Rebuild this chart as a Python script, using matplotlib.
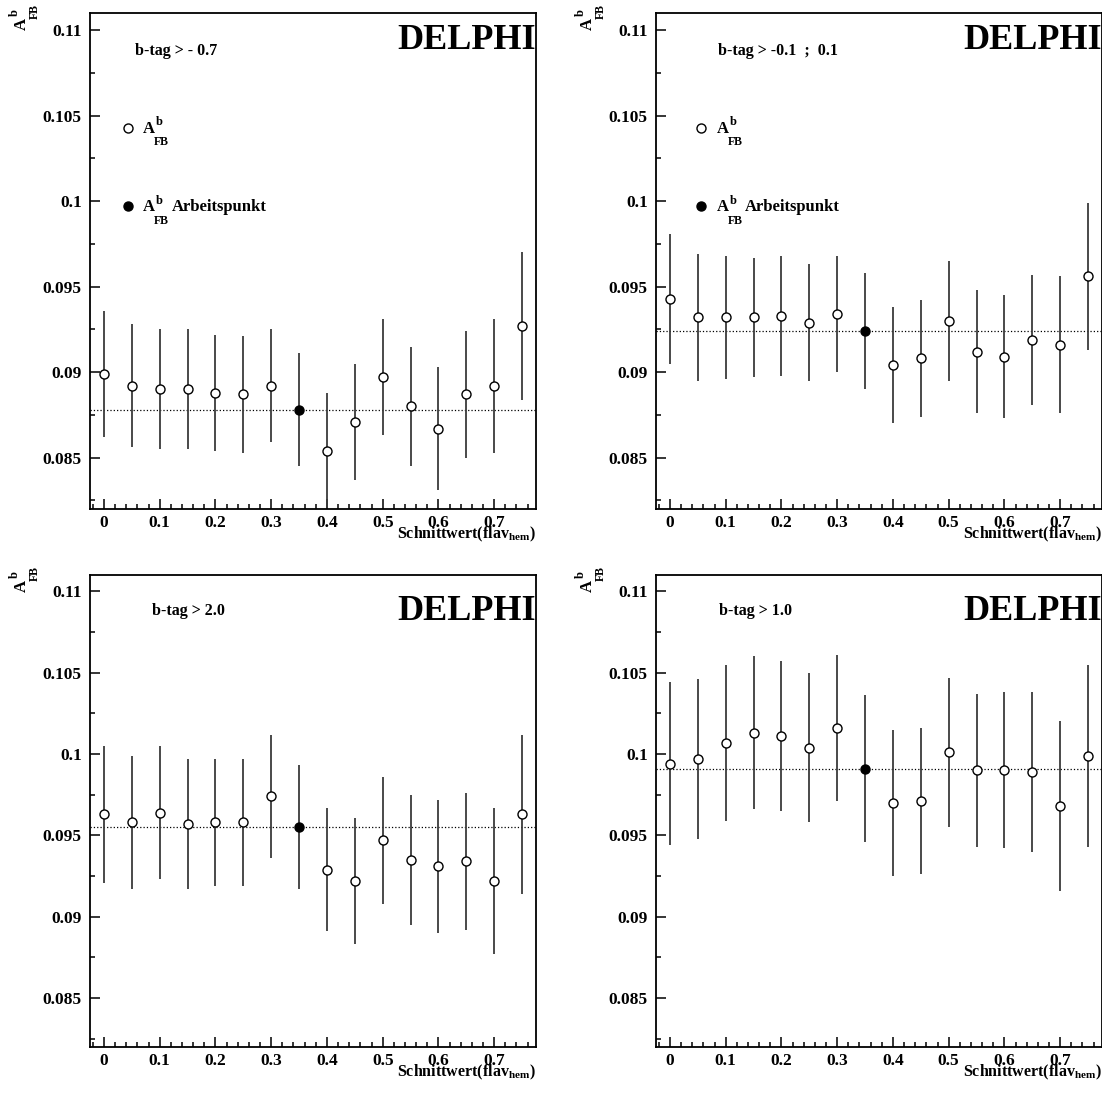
import matplotlib
matplotlib.use("Agg")
import matplotlib.pyplot as plt
from matplotlib.ticker import MultipleLocator, FuncFormatter

# ==============================
# Data: A_FB^b vs cut value, four b-tag selections
# ==============================
cuts = [0.0, 0.05, 0.1, 0.15, 0.2, 0.25, 0.3, 0.35, 0.4, 0.45, 0.5, 0.55, 0.6, 0.65, 0.7, 0.75]
work_point = 7  # index of the Arbeitspunkt (cut 0.35)

afb_m07 = [0.0899, 0.0892, 0.0890, 0.0890, 0.0888, 0.0887, 0.0892, 0.0878,
           0.0854, 0.0871, 0.0897, 0.0880, 0.0867, 0.0887, 0.0892, 0.0927]
err_m07 = [0.0037, 0.0036, 0.0035, 0.0035, 0.0034, 0.0034, 0.0033, 0.0033,
           0.0034, 0.0034, 0.0034, 0.0035, 0.0036, 0.0037, 0.0039, 0.0043]

afb_m01 = [0.0943, 0.0932, 0.0932, 0.0932, 0.0933, 0.0929, 0.0934, 0.0924,
           0.0904, 0.0908, 0.0930, 0.0912, 0.0909, 0.0919, 0.0916, 0.0956]
err_m01 = [0.0038, 0.0037, 0.0036, 0.0035, 0.0035, 0.0034, 0.0034, 0.0034,
           0.0034, 0.0034, 0.0035, 0.0036, 0.0036, 0.0038, 0.0040, 0.0043]

afb_20 = [0.0963, 0.0958, 0.0964, 0.0957, 0.0958, 0.0958, 0.0974, 0.0955,
          0.0929, 0.0922, 0.0947, 0.0935, 0.0931, 0.0934, 0.0922, 0.0963]
err_20 = [0.0042, 0.0041, 0.0041, 0.0040, 0.0039, 0.0039, 0.0038, 0.0038,
          0.0038, 0.0039, 0.0039, 0.0040, 0.0041, 0.0042, 0.0045, 0.0049]

afb_10 = [0.0994, 0.0997, 0.1007, 0.1013, 0.1011, 0.1004, 0.1016, 0.0991,
          0.0970, 0.0971, 0.1001, 0.0990, 0.0990, 0.0989, 0.0968, 0.0999]
err_10 = [0.0050, 0.0049, 0.0048, 0.0047, 0.0046, 0.0046, 0.0045, 0.0045,
          0.0045, 0.0045, 0.0046, 0.0047, 0.0048, 0.0049, 0.0052, 0.0056]

titles = ["b-tag > - 0.7", "b-tag > -0.1  ;  0.1", "b-tag > 2.0", "b-tag > 1.0"]

# ==============================
# Style (ROOT-like, bold Times)
# ==============================
plt.rcParams["font.family"] = "Liberation Serif"
plt.rcParams["font.weight"] = "bold"
plt.rcParams["mathtext.fontset"] = "custom"
plt.rcParams["mathtext.rm"] = "Liberation Serif:bold"
plt.rcParams["mathtext.it"] = "Liberation Serif:bold"
plt.rcParams["mathtext.bf"] = "Liberation Serif:bold"
plt.rcParams["mathtext.default"] = "rm"

W, H = 1102, 1111
fig = plt.figure(figsize=(W / 100, H / 100), dpi=100)


def afb_text(ax, x, y, xycoords, rot=0, extra=""):
    # ROOT style A^b_FB: superscript and subscript stacked
    if rot == 0:
        sup, sub, ext = (9.6, 5.5), (7.7, -8.9), (20.5, 0)
    else:
        sup, sub, ext = (-5.5, 9.6), (8.9, 7.7), (0, 20.5)
    kw = dict(xycoords=xycoords, textcoords="offset points", rotation=rot,
              rotation_mode="anchor", ha="left", va="baseline", annotation_clip=False)
    ax.annotate("A", (x, y), xytext=(0, 0), fontsize=12, **kw)
    ax.annotate("b", (x, y), xytext=sup, fontsize=9, **kw)
    ax.annotate("FB", (x, y), xytext=sub, fontsize=8.5, **kw)
    if extra:
        ax.annotate(extra, (x, y), xytext=ext, fontsize=12, **kw)


# axes rectangles in pixels: left, top, width, height
rects = [(90, 13, 446, 496), (656, 13, 446, 496),
         (90, 575, 446, 472), (656, 575, 446, 472)]
panels = [(afb_m07, err_m07), (afb_m01, err_m01), (afb_20, err_20), (afb_10, err_10)]
title_x = [0.055, 0.086, 0.087, 0.088]
delphi_y = [0.927, 0.927, 0.905, 0.905]
legend_x = [0.043, 0.055]
legend_tx = [0.070, 0.084]

fmt = FuncFormatter(lambda v, p: f"{v:g}")

for i, ((l, t, w, h), (vals, errs)) in enumerate(zip(rects, panels)):
    ax = fig.add_axes([l / W, 1 - (t + h) / H, w / W, h / H])
    ax.set_xlim(-0.025, 0.775)
    ax.set_ylim(0.082, 0.111)

    others = [k for k in range(len(cuts)) if k != work_point]
    ax.errorbar(cuts, vals, yerr=errs, fmt="none", ecolor="#3a3a3a", elinewidth=1.3, capsize=0, zorder=2)
    ax.axhline(vals[work_point], color="black", ls=":", lw=0.9, zorder=1)
    ax.plot([cuts[k] for k in others], [vals[k] for k in others], "o", ms=6.5,
            mfc="white", mec="black", mew=1.0, zorder=3)
    ax.plot(cuts[work_point], vals[work_point], "o", ms=6.5, mfc="black", mec="black", zorder=3)

    # axis ticks
    ax.xaxis.set_major_locator(MultipleLocator(0.1))
    ax.xaxis.set_minor_locator(MultipleLocator(0.02))
    ax.yaxis.set_major_locator(MultipleLocator(0.005))
    ax.yaxis.set_minor_locator(MultipleLocator(0.0025))
    ax.xaxis.set_major_formatter(fmt)
    ax.yaxis.set_major_formatter(fmt)
    ax.tick_params(which="both", direction="in", top=False, right=False, labelsize=12.5, width=1.1)
    ax.tick_params(which="major", length=7, pad=6)
    ax.tick_params(axis="x", which="major", pad=4.5)
    ax.tick_params(which="minor", length=3.5)
    for side in ["left", "right", "top", "bottom"]:
        ax.spines[side].set_linewidth(1.3)

    ax.text(title_x[i], 0.1088, titles[i], fontsize=11.5, va="center", ha="left")
    ax.text(1.0, delphi_y[i], "DELPHI", transform=ax.transAxes, fontsize=26, ha="right", va="baseline")

    ax.annotate(r"Schnittwert(flav$_{hem}$)", xy=(1.0, 0), xycoords="axes fraction",
                xytext=(0, -18.5), textcoords="offset points", ha="right", va="center", fontsize=11.5)

    # y axis label at the top-left corner
    afb_text(ax, (l - 64.5) / W, 1 - (t + 16.5) / H, "figure fraction", rot=90)

    # legend in top panels
    if i < 2:
        ax.plot(legend_x[i], 0.1043, "o", ms=6.5, mfc="white", mec="black", mew=1.0)
        ax.plot(legend_x[i], 0.0997, "o", ms=6.5, mfc="black", mec="black")
        afb_text(ax, legend_tx[i], 0.1040, "data")
        afb_text(ax, legend_tx[i], 0.0994, "data", extra="Arbeitspunkt")

plt.savefig("out.png", dpi=100)
